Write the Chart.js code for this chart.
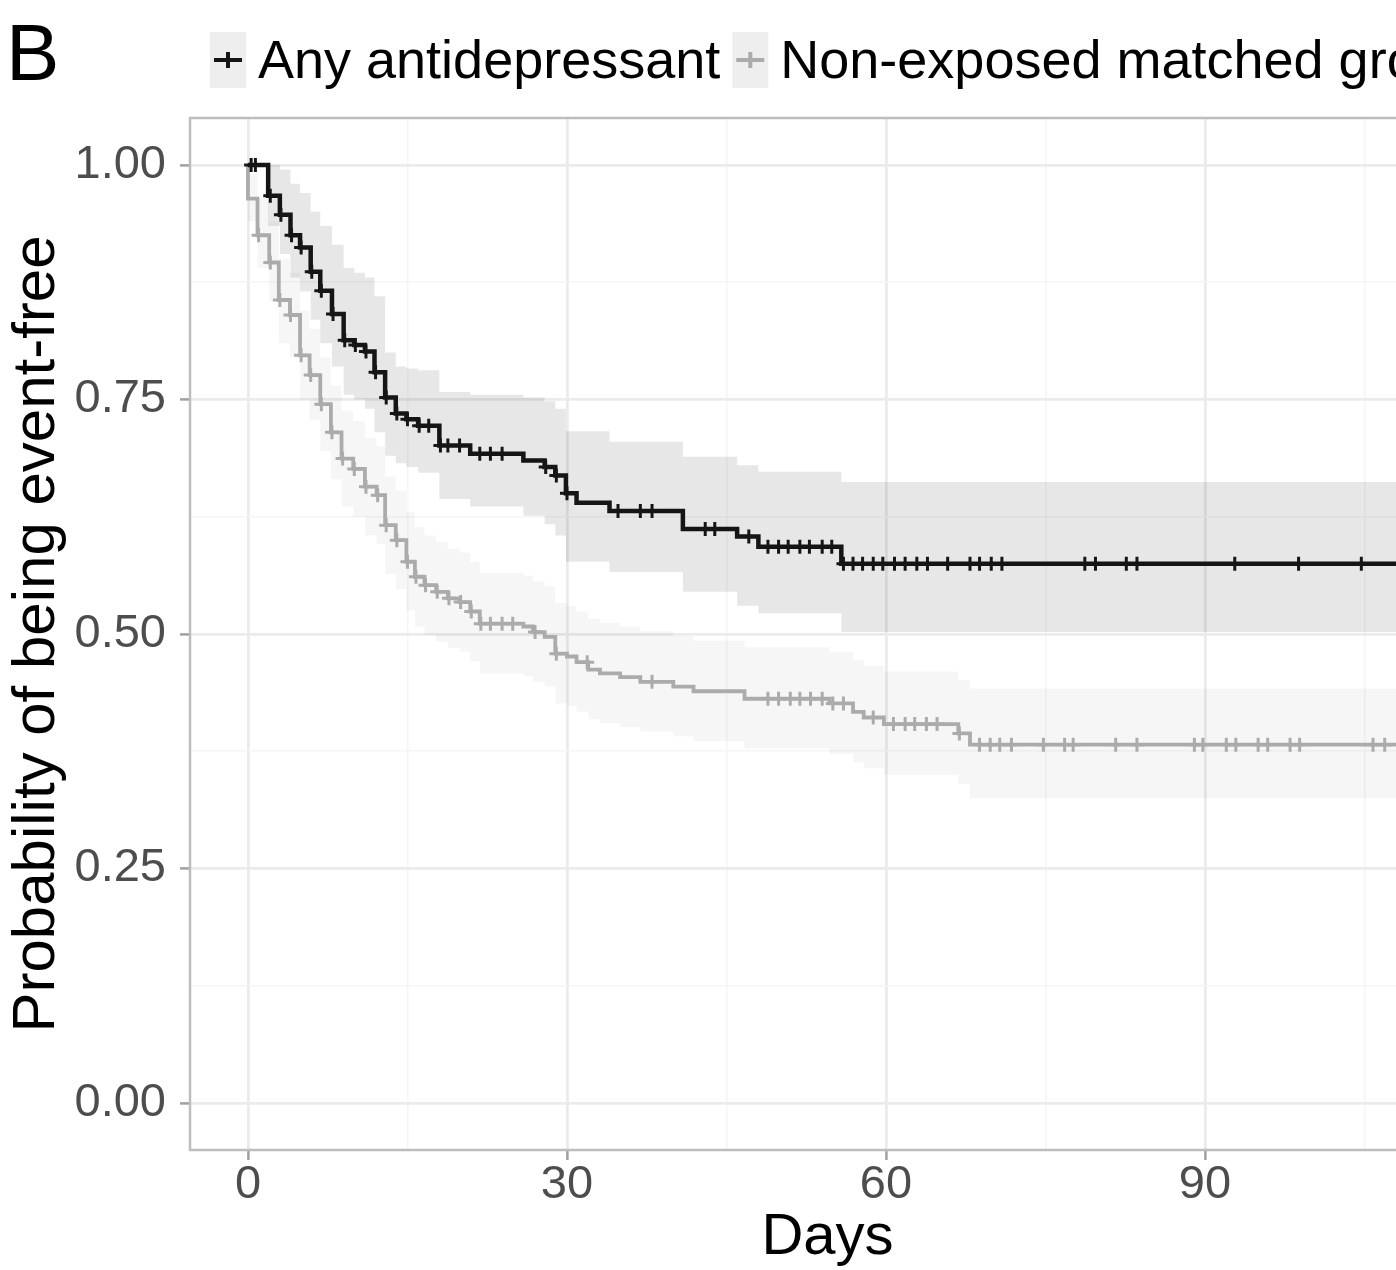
<!DOCTYPE html>
<html><head><meta charset="utf-8">
<script src="https://cdn.jsdelivr.net/npm/chart.js@4.4.1/dist/chart.umd.min.js"></script>
<style>
html,body{margin:0;padding:0;background:#fff;overflow:hidden;width:1396px;height:1270px}
#wrap{position:absolute;left:0;top:0;width:1500px;height:1270px}
canvas{display:block}
</style></head>
<body><div id="wrap"><canvas id="c" width="1500" height="1270"></canvas></div>
<script>
// ---------- data ----------
const panelLetter = 'B';
const seriesNames = ['Any antidepressant', 'Non-exposed matched group'];
const xTitle = 'Days';
const yTitle = 'Probability of being event-free';
const xMajorTicks = [0, 30, 60, 90];
const xMinorTicks = [15, 45, 75, 105];
const yMajorTicks = [0, 0.25, 0.5, 0.75, 1];
const yMinorTicks = [0.125, 0.375, 0.625, 0.875];

// Any antidepressant (Kaplan-Meier steps)
const adTimes = [0, 1.9, 3.0, 4.0, 4.9, 5.9, 6.8, 7.9, 9.0, 10.0, 11.0, 11.9, 12.9, 13.9, 14.9, 16.0, 18.0, 20.9, 25.9, 27.9, 28.9, 29.9, 30.9, 34.0, 40.9, 46.0, 48.0, 55.8, 109];
const adSurv  = [1.000, 0.967, 0.947, 0.925, 0.912, 0.886, 0.866, 0.841, 0.813, 0.808, 0.801, 0.779, 0.752, 0.735, 0.729, 0.722, 0.701, 0.692, 0.685, 0.678, 0.669, 0.650, 0.640, 0.631, 0.612, 0.604, 0.593, 0.575, 0.575];
const adUpper = [1.000, 1.000, 0.995, 0.980, 0.970, 0.950, 0.935, 0.915, 0.890, 0.885, 0.880, 0.860, 0.800, 0.785, 0.783, 0.781, 0.758, 0.755, 0.752, 0.748, 0.740, 0.716, 0.716, 0.705, 0.689, 0.680, 0.673, 0.662, 0.662];
const adLower = [1.000, 0.935, 0.905, 0.880, 0.865, 0.835, 0.810, 0.785, 0.755, 0.750, 0.740, 0.715, 0.690, 0.682, 0.678, 0.672, 0.644, 0.636, 0.626, 0.617, 0.605, 0.577, 0.577, 0.566, 0.545, 0.530, 0.522, 0.502, 0.502];
const adCensor = [0.3, 0.7, 2.1, 3.1, 4.1, 5.0, 6.0, 6.9, 8.0, 9.1, 10.1, 11.1, 12.0, 13.0, 14.0, 15.0, 16.1, 17.0, 18.1, 18.8, 19.9, 21.8, 22.8, 23.9, 28.0, 29.0, 30.0, 34.8, 36.9, 38.0, 43.0, 43.9, 47.1, 48.9, 49.9, 50.8, 51.9, 52.8, 54.0, 54.9, 56.0, 56.9, 57.8, 58.8, 59.7, 60.8, 61.8, 62.9, 63.9, 65.8, 67.9, 68.8, 69.9, 70.9, 78.7, 79.7, 82.6, 83.6, 92.8, 98.8, 104.7];

// Non-exposed matched group
const neTimes = [0, 0, 0.9, 2.0, 2.9, 3.95, 4.9, 5.8, 6.8, 7.8, 8.8, 9.9, 11.0, 12.1, 12.9, 13.9, 14.9, 15.7, 16.6, 17.7, 18.8, 19.9, 20.9, 21.8, 25.9, 26.8, 27.9, 28.9, 30.0, 30.9, 32.0, 33.1, 35.0, 36.9, 40.0, 41.9, 46.7, 54.7, 56.9, 57.9, 59.8, 66.8, 67.9, 109];
const neSurv  = [1.000, 0.964, 0.925, 0.896, 0.856, 0.840, 0.797, 0.776, 0.745, 0.715, 0.687, 0.676, 0.657, 0.648, 0.616, 0.600, 0.577, 0.561, 0.552, 0.545, 0.538, 0.534, 0.524, 0.511, 0.508, 0.502, 0.497, 0.479, 0.476, 0.470, 0.462, 0.458, 0.454, 0.449, 0.444, 0.439, 0.431, 0.426, 0.417, 0.411, 0.404, 0.394, 0.382, 0.382];
const neUpper = [1.000, 0.990, 0.965, 0.940, 0.900, 0.885, 0.845, 0.825, 0.795, 0.765, 0.738, 0.727, 0.709, 0.700, 0.668, 0.653, 0.630, 0.614, 0.605, 0.598, 0.591, 0.587, 0.577, 0.565, 0.562, 0.556, 0.551, 0.533, 0.530, 0.524, 0.516, 0.512, 0.508, 0.503, 0.498, 0.493, 0.486, 0.481, 0.472, 0.466, 0.460, 0.451, 0.442, 0.442];
const neLower = [1.000, 0.940, 0.890, 0.855, 0.810, 0.795, 0.750, 0.728, 0.695, 0.665, 0.636, 0.625, 0.605, 0.596, 0.564, 0.548, 0.525, 0.508, 0.499, 0.492, 0.485, 0.481, 0.471, 0.458, 0.455, 0.449, 0.444, 0.426, 0.423, 0.417, 0.409, 0.405, 0.401, 0.396, 0.391, 0.386, 0.378, 0.372, 0.363, 0.357, 0.350, 0.340, 0.325, 0.325];
const neCensor = [1.0, 2.1, 3.0, 4.0, 5.0, 5.9, 6.9, 7.9, 8.9, 10.0, 11.1, 12.2, 13.0, 14.0, 15.0, 15.8, 16.7, 17.8, 18.9, 20.0, 21.0, 21.9, 22.8, 23.9, 24.9, 27.0, 29.0, 31.9, 38.0, 48.9, 49.9, 51.0, 51.9, 52.9, 54.0, 55.0, 56.0, 58.8, 60.7, 61.8, 62.7, 63.8, 64.8, 66.9, 68.8, 69.8, 70.7, 71.8, 74.8, 76.8, 77.6, 81.6, 83.6, 89.0, 89.8, 92.0, 92.9, 95.0, 95.9, 98.0, 98.9, 105.8, 106.9];

// ---------- helpers ----------
const fam = '"Liberation Sans", Arial, Helvetica, sans-serif';
const colAD = '#151515';
const colNE = '#ababab';
const pts = (xs, ys) => xs.map((x, i) => ({x: x, y: ys[i]}));
function survAt(times, surv, t) {
  let v = surv[0];
  for (let i = 0; i < times.length; i++) { if (times[i] <= t) v = surv[i]; }
  return v;
}
const censorPts = (cs, times, surv) => cs.map(t => ({x: t, y: survAt(times, surv, t)}));
const isMajX = v => xMajorTicks.includes(v);
const isMajY = v => yMajorTicks.some(m => Math.abs(m - v) < 1e-9);

const decor = {
  id: 'decor',
  afterDraw(chart) {
    const ctx = chart.ctx, a = chart.chartArea;
    ctx.save();
    ctx.strokeStyle = '#bdbdbd';
    ctx.lineWidth = 2.5;
    ctx.strokeRect(a.left, a.top, a.right - a.left, a.bottom - a.top);
    ctx.fillStyle = '#000';
    ctx.textBaseline = 'alphabetic';
    ctx.font = '80px ' + fam;
    ctx.fillText(panelLetter, 6, 80);
    ctx.font = '54px ' + fam;
    let x = 210;
    const cols = [colAD, colNE];
    seriesNames.forEach((name, i) => {
      ctx.fillStyle = '#eeeeee';
      ctx.fillRect(x, 32, 36, 56);
      ctx.strokeStyle = cols[i];
      ctx.lineWidth = 4;
      ctx.beginPath();
      ctx.moveTo(x + 4, 60); ctx.lineTo(x + 32, 60);
      ctx.moveTo(x + 18, 52); ctx.lineTo(x + 18, 68);
      ctx.stroke();
      ctx.fillStyle = '#000';
      ctx.fillText(name, x + 48, 78);
      x += 48 + ctx.measureText(name).width + 12;
    });
    ctx.restore();
  }
};

const lineDs = (label, data, color, width) => ({
  label, data, borderColor: color, borderWidth: width, stepped: 'before',
  pointRadius: 0, fill: false, tension: 0
});
const censorDs = (label, data, color) => ({
  label, data, showLine: false, pointStyle: 'cross', pointRadius: 7,
  pointBorderWidth: 3, borderColor: color, backgroundColor: color, pointHoverRadius: 0
});
const bandDs = (label, data, fill, bg) => ({
  label, data, stepped: 'before', borderWidth: 0, borderColor: 'rgba(0,0,0,0)',
  pointRadius: 0, fill: fill, backgroundColor: bg, tension: 0
});

new Chart(document.getElementById('c'), {
  type: 'line',
  data: {
    datasets: [
      censorDs('ad-censor', censorPts(adCensor, adTimes, adSurv), colAD),
      lineDs(seriesNames[0], pts(adTimes, adSurv), colAD, 4.5),
      censorDs('ne-censor', censorPts(neCensor, neTimes, neSurv), colNE),
      lineDs(seriesNames[1], pts(neTimes, neSurv), colNE, 3.8),
      bandDs('ad-upper', pts(adTimes, adUpper), false, 'rgba(0,0,0,0)'),
      bandDs('ad-lower', pts(adTimes, adLower), '-1', 'rgba(0,0,0,0.095)'),
      bandDs('ne-upper', pts(neTimes, neUpper), false, 'rgba(0,0,0,0)'),
      bandDs('ne-lower', pts(neTimes, neLower), '-1', 'rgba(0,0,0,0.035)')
    ]
  },
  options: {
    responsive: false,
    animation: false,
    devicePixelRatio: 1,
    layout: {padding: {top: 118, right: 35, bottom: 0, left: 0}},
    plugins: {legend: {display: false}, tooltip: {enabled: false}},
    events: [],
    scales: {
      x: {
        type: 'linear', min: -5.45, max: 114.45,
        afterBuildTicks: s => { s.ticks = xMajorTicks.concat(xMinorTicks).sort((p, q) => p - q).map(v => ({value: v})); },
        afterFit: s => { s.height = 120; },
        ticks: {autoSkip: false, maxRotation: 0, padding: -3, color: '#4d4d4d',
                font: {family: fam, size: 47}, callback: v => isMajX(v) ? String(v) : ''},
        grid: {
          color: c => (c.tick && isMajX(c.tick.value)) ? '#ebebeb' : '#f5f5f5',
          lineWidth: c => (c.tick && isMajX(c.tick.value)) ? 2.8 : 1.6,
          tickColor: c => (c.tick && isMajX(c.tick.value)) ? '#a0a0a0' : 'rgba(0,0,0,0)',
          tickLength: 10, tickWidth: 2.5
        },
        border: {display: false},
        title: {display: true, text: xTitle, color: '#000',
                font: {family: fam, size: 58, lineHeight: 1.1}, padding: {top: 0, bottom: 0}}
      },
      y: {
        type: 'linear', min: -0.05, max: 1.05,
        afterBuildTicks: s => { s.ticks = yMajorTicks.concat(yMinorTicks).sort((p, q) => p - q).map(v => ({value: v})); },
        afterFit: s => { s.width = 190; },
        ticks: {autoSkip: false, padding: 14, color: '#4d4d4d',
                font: {family: fam, size: 47}, callback: v => isMajY(v) ? v.toFixed(2) : ''},
        grid: {
          color: c => (c.tick && isMajY(c.tick.value)) ? '#ebebeb' : '#f5f5f5',
          lineWidth: c => (c.tick && isMajY(c.tick.value)) ? 2.8 : 1.6,
          tickColor: c => (c.tick && isMajY(c.tick.value)) ? '#a0a0a0' : 'rgba(0,0,0,0)',
          tickLength: 10, tickWidth: 2.5
        },
        border: {display: false},
        title: {display: true, text: yTitle, color: '#000',
                font: {family: fam, size: 60, lineHeight: 1.1}, padding: {top: 4, bottom: 0}}
      }
    }
  },
  plugins: [decor]
});
</script>
</body></html>
